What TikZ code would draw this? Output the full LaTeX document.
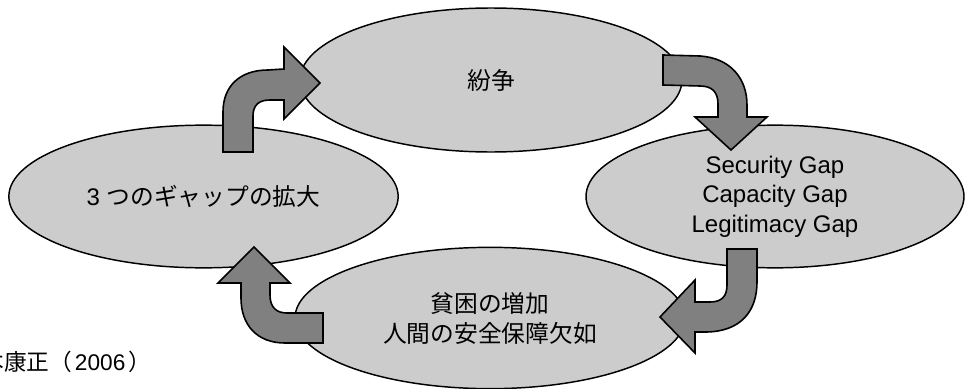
\documentclass[tikz,border=0pt]{standalone}
\usepackage{fontspec}
\setmainfont{Liberation Sans}
\newfontfamily\jp{Noto Sans CJK JP}
\usetikzlibrary{shapes.geometric}
\definecolor{ellgray}{HTML}{CCCCCC}
\definecolor{arrgray}{HTML}{808080}
\begin{document}
\begin{tikzpicture}[x=0.75pt,y=-0.75pt,
  blob/.style={ellipse, draw=black, line width=1.1pt, fill=ellgray, inner sep=0pt, align=center,
               font=\fontsize{18}{22.2}\selectfont},
  jpblob/.style={blob, font=\jp\fontsize{17.8}{22.5}\selectfont},
  barrow/.style={draw=black, line width=1.2pt, fill=arrgray, line join=miter}]
\useasboundingbox (0,0) rectangle (968,389);

\node[jpblob, minimum width=286.5pt, minimum height=108pt] (conflict) at (491,80) {紛争};
\node[blob, minimum width=283.5pt, minimum height=107pt] (gaps) at (775,196.5) {Security Gap\\Capacity Gap\\Legitimacy Gap};
\node[blob, minimum width=292pt, minimum height=107pt] (expand) at (203.5,196.5) {3 {\jp\fontsize{17.8}{22}\selectfont つのギャップの拡大}};
\node[jpblob, minimum width=292.5pt, minimum height=106pt] (poverty) at (490,318) {貧困の増加\\人間の安全保障欠如};

% expand -> conflict
\draw[barrow] (223,152) -- (223,112) .. controls (223,86) and (240,70) .. (268,70) -- (284,69)
  -- (284,47) -- (320,83) -- (284,119) -- (284,100) -- (270,100)
  .. controls (259,100) and (253,105) .. (253,116) -- (253,152) -- cycle;
% conflict -> gaps
\draw[barrow] (663,55) -- (700,56) .. controls (730,58) and (747,78) .. (747,105) -- (747,117)
  -- (767,117) -- (731,150) -- (695,117) -- (718,117) -- (718,104)
  .. controls (718,92) and (712,86) .. (700,86) -- (663,85) -- cycle;
% gaps -> poverty
\draw[barrow] (727,249) -- (757,249) -- (757,282) .. controls (757,312) and (740,332) .. (705,332)
  -- (695,332) -- (695,353) -- (660,317) -- (695,280) -- (695,302) -- (710,302)
  .. controls (722,302) and (727,296) .. (727,285) -- cycle;
% poverty -> expand
\draw[barrow] (323,343) -- (285,343) .. controls (257,343) and (241,325) .. (241,298) -- (241,283)
  -- (218,283) -- (254,247) -- (290,283) -- (270,283) -- (270,295)
  .. controls (270,307) and (276,313) .. (287,313) -- (323,313) -- cycle;

\node[anchor=east, inner sep=0pt, font=\fontsize{17}{20}\selectfont] (cite) at (151,362)
  {{\jp 本康正（}\hspace{2pt}2006\hspace{2pt}{\jp ）}};
\end{tikzpicture}
\end{document}
